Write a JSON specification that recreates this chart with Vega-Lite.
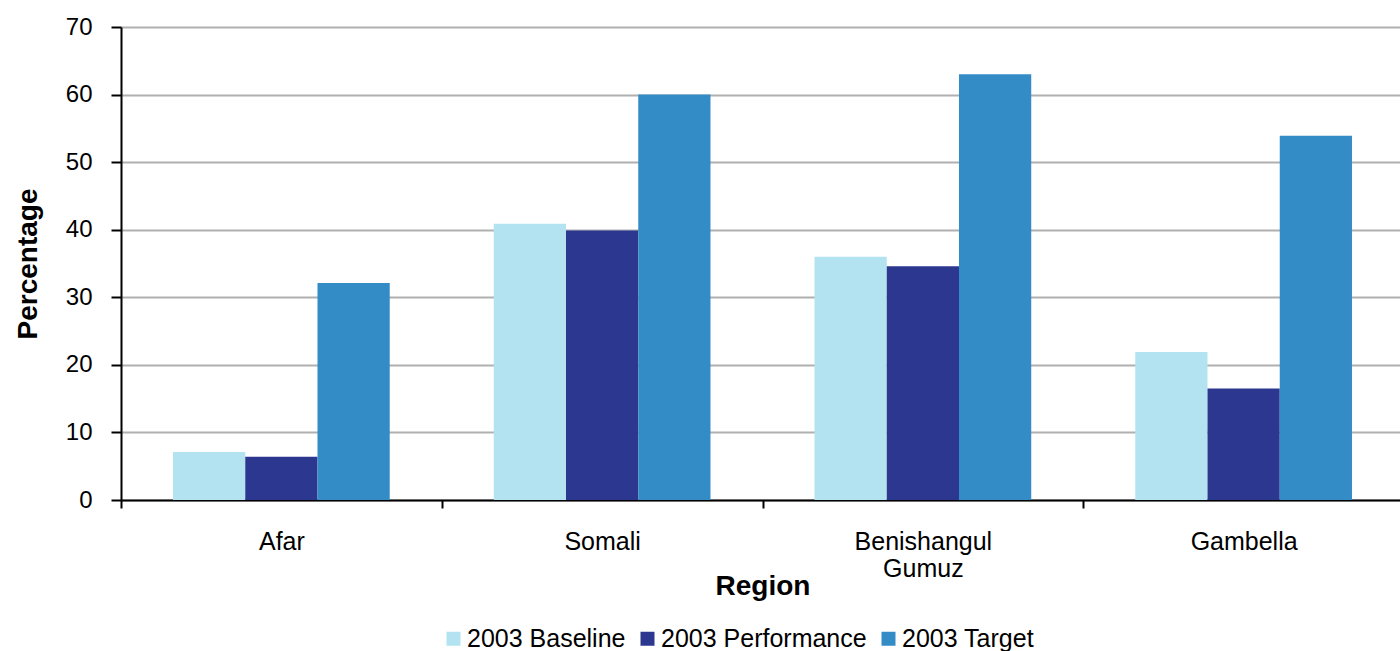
{
  "$schema": "https://vega.github.io/schema/vega-lite/v6.json",
  "autosize": "none",
  "width": 1283,
  "height": 473,
  "padding": {"left": 121, "top": 27, "right": 0, "bottom": 151},
  "background": "white",
  "config": {
    "font": "Liberation Sans",
    "view": {"stroke": null}
  },
  "data": {
    "values": [
      {"region": "Afar", "series": "2003 Baseline", "value": 7.1},
      {"region": "Afar", "series": "2003 Performance", "value": 6.4},
      {"region": "Afar", "series": "2003 Target", "value": 32.1},
      {"region": "Somali", "series": "2003 Baseline", "value": 40.9},
      {"region": "Somali", "series": "2003 Performance", "value": 39.9},
      {"region": "Somali", "series": "2003 Target", "value": 60.0},
      {"region": "Benishangul Gumuz", "series": "2003 Baseline", "value": 36.0},
      {"region": "Benishangul Gumuz", "series": "2003 Performance", "value": 34.6},
      {"region": "Benishangul Gumuz", "series": "2003 Target", "value": 63.0},
      {"region": "Gambella", "series": "2003 Baseline", "value": 21.9},
      {"region": "Gambella", "series": "2003 Performance", "value": 16.5},
      {"region": "Gambella", "series": "2003 Target", "value": 53.9}
    ]
  },
  "mark": {"type": "bar"},
  "encoding": {
    "x": {
      "field": "region",
      "type": "nominal",
      "sort": ["Afar", "Somali", "Benishangul Gumuz", "Gambella"],
      "scale": {"paddingInner": 0, "paddingOuter": 0},
      "axis": {
        "title": "Region",
        "titleFont": "Liberation Sans",
        "titleFontSize": 28,
        "titleFontWeight": "bold",
        "titleColor": "black",
        "titleY": 72,
        "titleBaseline": "top",
        "labelAngle": 0,
        "labelFontSize": 25,
        "labelColor": "black",
        "labelPadding": 21,
        "labelBaseline": "top",
        "labelLineHeight": 27,
        "labelExpr": "datum.label == 'Benishangul Gumuz' ? ['Benishangul', 'Gumuz'] : datum.label",
        "tickBand": "extent",
        "tickColor": "black",
        "tickWidth": 2,
        "tickSize": 8,
        "domainColor": "black",
        "domainWidth": 2,
        "grid": false
      }
    },
    "xOffset": {
      "field": "series",
      "type": "nominal",
      "sort": ["2003 Baseline", "2003 Performance", "2003 Target"],
      "scale": {"paddingInner": 0, "paddingOuter": 0.72}
    },
    "y": {
      "field": "value",
      "type": "quantitative",
      "scale": {"domain": [0, 70], "nice": false},
      "axis": {
        "title": "Percentage",
        "titleFont": "Liberation Sans",
        "titleFontSize": 28,
        "titleFontWeight": "bold",
        "titleColor": "black",
        "titlePadding": 23,
        "values": [0, 10, 20, 30, 40, 50, 60, 70],
        "labelFontSize": 24,
        "labelColor": "black",
        "labelPadding": 19,
        "tickColor": "black",
        "tickWidth": 2,
        "tickSize": 10,
        "domainColor": "black",
        "domainWidth": 2,
        "gridColor": "#b0b0b0",
        "gridWidth": 2
      }
    },
    "color": {
      "field": "series",
      "type": "nominal",
      "sort": ["2003 Baseline", "2003 Performance", "2003 Target"],
      "scale": {
        "domain": ["2003 Baseline", "2003 Performance", "2003 Target"],
        "range": ["#b3e3f1", "#2c388f", "#348cc7"]
      },
      "legend": {
        "title": null,
        "orient": "none",
        "direction": "horizontal",
        "legendX": 320,
        "legendY": 599,
        "symbolType": "square",
        "symbolSize": 196,
        "symbolStrokeWidth": 0,
        "symbolOpacity": 1,
        "labelFontSize": 25,
        "labelColor": "black",
        "labelOffset": 1,
        "columnPadding": 9,
        "labelLimit": 400
      }
    }
  }
}
